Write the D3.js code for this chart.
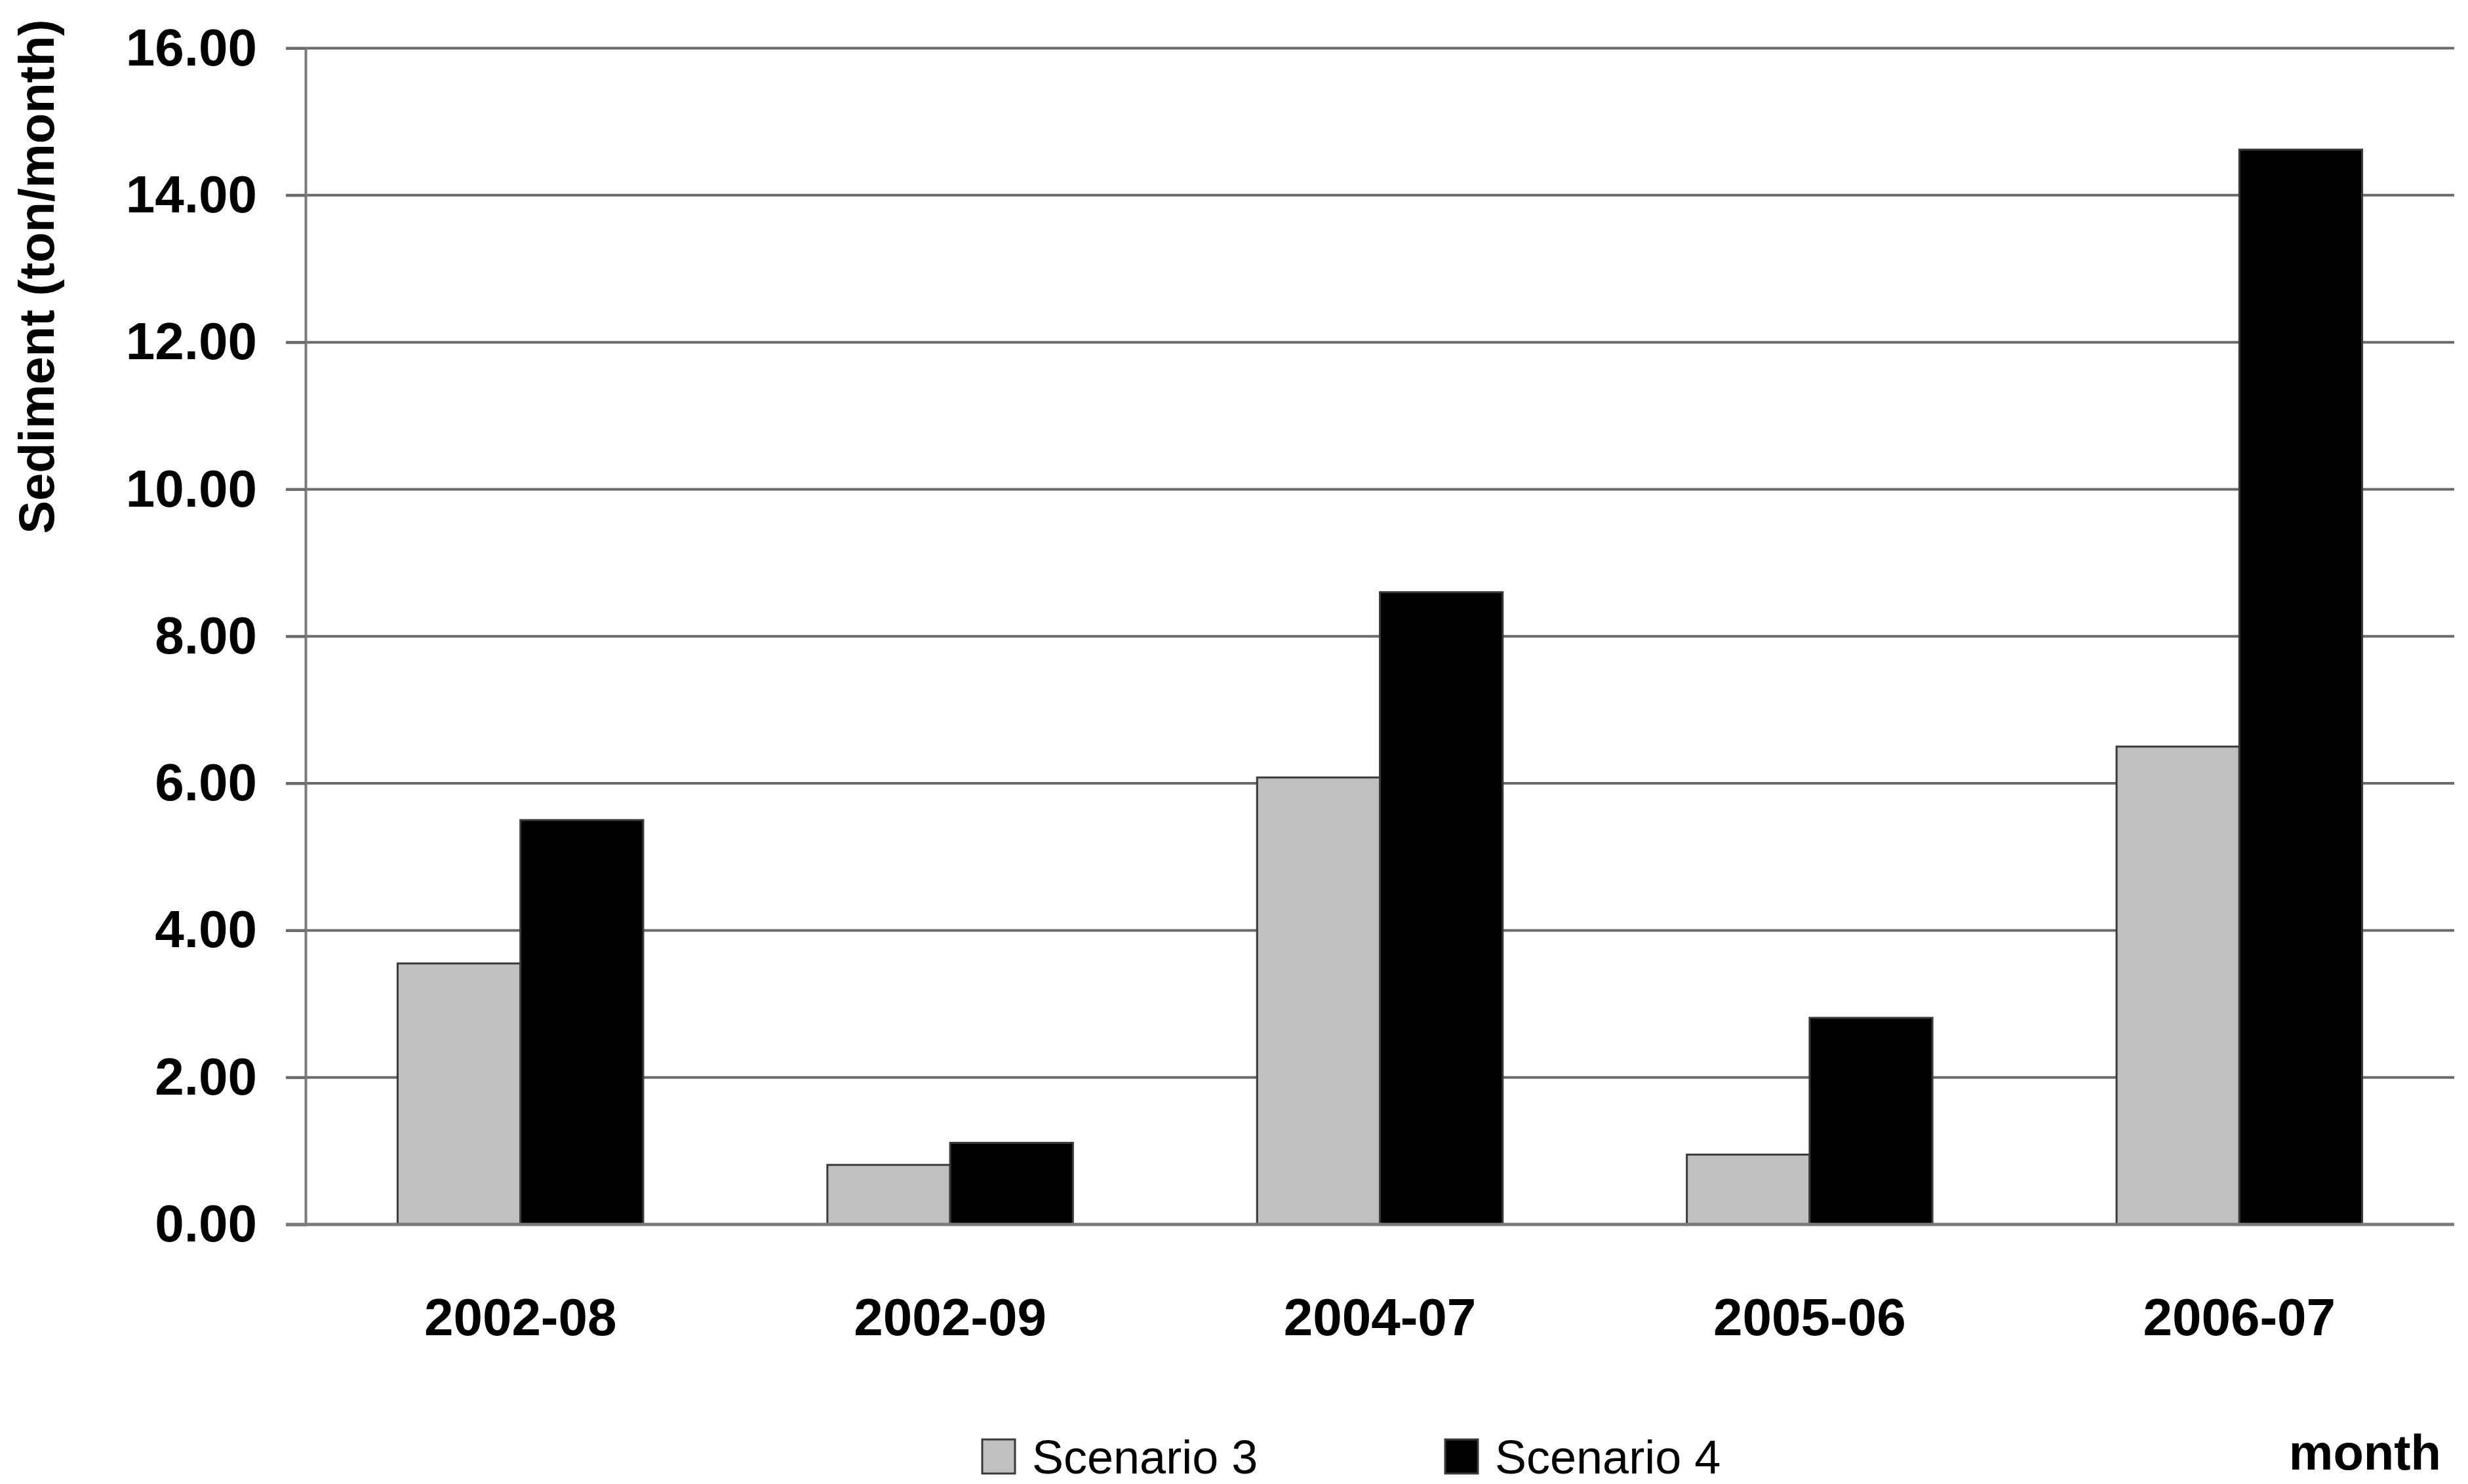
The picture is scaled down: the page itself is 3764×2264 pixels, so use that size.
<!DOCTYPE html>
<html>
<head>
<meta charset="utf-8">
<script src="https://cdn.jsdelivr.net/npm/d3@7"></script>
<style>
  html, body { margin: 0; padding: 0; background: #fff; }
  svg { display: block; }
</style>
</head>
<body>
<script>
const categories = ["2002-08", "2002-09", "2004-07", "2005-06", "2006-07"];
const seriesNames = ["Scenario 3", "Scenario 4"];
const scenario3 = [3.55, 0.81, 6.08, 0.95, 6.50];
const scenario4 = [5.50, 1.11, 8.60, 2.81, 14.62];
const yTicks = [0, 2, 4, 6, 8, 10, 12, 14, 16];
const seriesColors = ["#c0c0c0", "#000000"];

const W = 3764, H = 2264;
const plotLeft = 466, plotRight = 3743, plotTop = 73.5, plotBottom = 1868;

const svg = d3.select("body").append("svg").attr("width", W).attr("height", H);

const y = d3.scaleLinear().domain([0, 16]).range([plotBottom, plotTop]);
const x0 = d3.scaleBand().domain(categories).range([plotLeft, plotRight]).paddingInner(0).paddingOuter(0);
const bw = x0.bandwidth();
const x1 = d3.scaleBand().domain(seriesNames)
  .range([bw * 0.75 / 3.5, bw * (1 - 0.75 / 3.5)]).padding(0);

// gridlines
svg.append("g").selectAll("line").data(yTicks.filter(d => d > 0)).join("line")
  .attr("x1", plotLeft - 30).attr("x2", plotRight)
  .attr("y1", d => y(d)).attr("y2", d => y(d))
  .attr("stroke", "#6a6a6a").attr("stroke-width", 4);

// y axis
const yAxis = d3.axisLeft(y).tickValues(yTicks).tickFormat(d3.format(".2f"))
  .tickSize(30).tickPadding(44);
const gy = svg.append("g").attr("transform", `translate(${plotLeft},0)`).call(yAxis);
gy.select(".domain").attr("stroke", "#7a7a7a").attr("stroke-width", 4);
gy.selectAll(".tick line").attr("stroke", "#6a6a6a").attr("stroke-width", 4);
gy.selectAll("text")
  .attr("font-family", "'Liberation Sans', Arial, sans-serif")
  .attr("font-weight", "bold").attr("font-size", 80).attr("fill", "#000");

// bars
const rows = categories.map((c, i) => ({ cat: c, vals: [scenario3[i], scenario4[i]] }));
const groups = svg.append("g").selectAll("g").data(rows).join("g")
  .attr("transform", d => `translate(${x0(d.cat)},0)`);
groups.selectAll("rect").data(d => d.vals.map((v, j) => ({ name: seriesNames[j], v, j }))).join("rect")
  .attr("x", d => x1(d.name))
  .attr("width", x1.bandwidth())
  .attr("y", d => y(d.v))
  .attr("height", d => y(0) - y(d.v))
  .attr("fill", d => seriesColors[d.j])
  .attr("stroke", "#3a3a3a").attr("stroke-width", 3);

// x axis
const xAxis = d3.axisBottom(x0).tickSize(0).tickPadding(112);
const gx = svg.append("g").attr("transform", `translate(0,${plotBottom})`).call(xAxis);
gx.select(".domain").attr("stroke", "#7a7a7a").attr("stroke-width", 5)
  .attr("d", `M${plotLeft - 30},0H${plotRight}`);
gx.selectAll("text")
  .attr("font-family", "'Liberation Sans', Arial, sans-serif")
  .attr("font-weight", "bold").attr("font-size", 80).attr("fill", "#000");

// y axis title
svg.append("text")
  .attr("transform", "translate(82,422) rotate(-90)")
  .attr("text-anchor", "middle")
  .attr("font-family", "'Liberation Sans', Arial, sans-serif")
  .attr("font-weight", "bold").attr("font-size", 76)
  .text("Sediment (ton/month)");

// x axis title
svg.append("text")
  .attr("x", 3723).attr("y", 2242)
  .attr("text-anchor", "end")
  .attr("font-family", "'Liberation Sans', Arial, sans-serif")
  .attr("font-weight", "bold").attr("font-size", 76)
  .text("month");

// legend
const legendX = [1498, 2204];
const lg = svg.append("g").selectAll("g").data(seriesNames).join("g")
  .attr("transform", (d, i) => `translate(${legendX[i]},2196)`);
lg.append("rect").attr("width", 50).attr("height", 52)
  .attr("fill", (d, i) => seriesColors[i]).attr("stroke", "#3a3a3a").attr("stroke-width", 3);
lg.append("text").attr("x", 76).attr("y", 52)
  .attr("font-family", "'Liberation Sans', Arial, sans-serif")
  .attr("font-size", 72).attr("fill", "#000")
  .text(d => d);
</script>
</body>
</html>
